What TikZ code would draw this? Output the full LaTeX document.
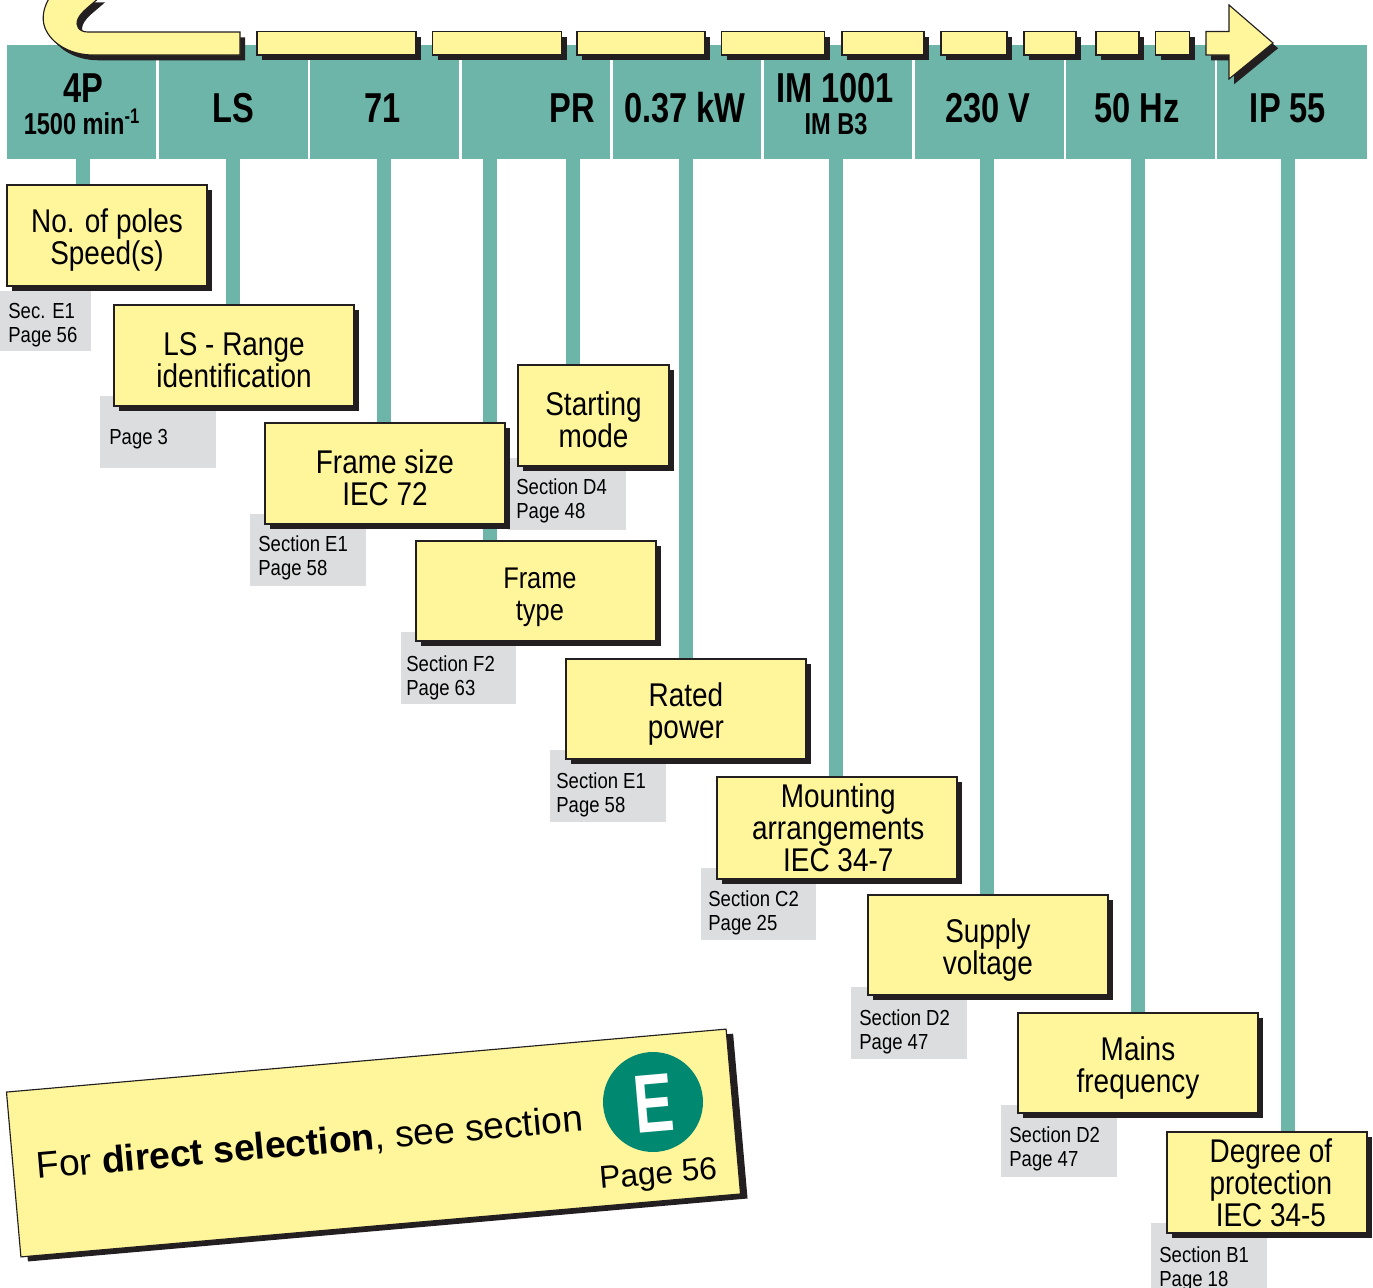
\documentclass[tikz,border=0pt]{standalone}
\usepackage{fontspec}
\usepackage{xcolor}
\usetikzlibrary{shadows,backgrounds}
\setmainfont{Liberation Sans}
\newfontfamily\noteface[FakeStretch=0.85]{Liberation Sans}
\newfontfamily\headface[FakeStretch=0.78]{Liberation Sans Bold}
\newfontfamily\bigface[FakeStretch=0.72]{Liberation Sans Bold}
\definecolor{bandteal}{HTML}{6DB5A9}
\definecolor{noteyellow}{HTML}{FFF59B}
\definecolor{shadowink}{HTML}{231F20}
\definecolor{taggray}{HTML}{DCDDDE}
\definecolor{badgegreen}{HTML}{008970}

\begin{document}
\begin{tikzpicture}[
    x=0.02cm, y=-0.02cm,
    cell/.style={fill=bandteal, anchor=north west, inner sep=0pt, outer sep=0pt, minimum height=2.28cm},
    headtext/.style={font=\headface\fontsize{23.8}{24}\selectfont, inner sep=0pt, align=center},
    headsmall/.style={font=\headface\fontsize{17.2}{18}\selectfont, inner sep=0pt},
    stem/.style={draw=bandteal, line width=0.28cm},
    hardshadow/.style={general shadow={fill=shadowink, shadow xshift=2.9pt, shadow yshift=-3pt}},
    segment/.style={draw=shadowink, line width=0.65pt, fill=noteyellow, hardshadow, anchor=north west, inner sep=0pt, outer sep=0pt, minimum height=0.47cm},
    notebox/.style={draw=shadowink, line width=0.65pt, fill=noteyellow, hardshadow, anchor=north west, inner sep=0pt, outer sep=0pt,
        minimum width=4.8cm, minimum height=2cm, align=center, font=\noteface\fontsize{18.7}{18.2}\selectfont},
    lowtext/.style={execute at begin node={\rule{0pt}{37pt}}},
    tagbox/.style={fill=taggray, anchor=north west, inner sep=0pt, outer sep=0pt, minimum width=2.32cm, minimum height=1.44cm},
    tagtext/.style={anchor=west, inner sep=0pt, align=left, font=\noteface\fontsize{12.4}{13.6}\selectfont}
]
    \clip (0,0) rectangle (1373,1288);

    % band
    \node[cell, minimum width=2.99cm] (cellPoles) at (7,45) {};
    \node[cell, minimum width=2.99cm] (cellRange) at (159,45) {};
    \node[cell, minimum width=2.99cm] (cellSize) at (310,45) {};
    \node[cell, minimum width=2.97cm] (cellType) at (461.5,45) {};
    \node[cell, minimum width=2.97cm] (cellPower) at (612.5,45) {};
    \node[cell, minimum width=2.98cm] (cellMount) at (763.5,45) {};
    \node[cell, minimum width=2.98cm] (cellVolt) at (915,45) {};
    \node[cell, minimum width=2.98cm] (cellFreq) at (1066,45) {};
    \node[cell, minimum width=3.00cm] (cellProt) at (1217,45) {};

    \node[headtext] (txtPoles) at (83,88) {4P};
    \node[headsmall] (txtSpeed) at (82,122) {1500 min\textsuperscript{-1}};
    \node[headtext] (txtRange) at (233,108) {LS};
    \node[headtext] (txtSize) at (383,108) {71};
    \node[headtext] (txtType) at (572,108) {PR};
    \node[headtext] (txtPower) at (685,108) {0.37 kW};
    \node[headtext] (txtMount) at (835,88) {IM 1001};
    \node[headsmall] (txtShape) at (836,124) {IM B3};
    \node[headtext] (txtVolt) at (988,108) {230 V};
    \node[headtext] (txtFreq) at (1137,108) {50 Hz};
    \node[headtext] (txtProt) at (1288,108) {IP 55};

    % gray tags
    \node[tagbox, minimum width=1.82cm, minimum height=1.2cm] (tagPoles) at (0,291) {};
    \node[tagbox] (tagRange) at (100,396) {};
    \node[tagbox] (tagSize) at (250,514) {};
    \node[tagbox, minimum width=2.36cm] (tagStart) at (508,458) {};
    \node[tagbox] (tagType) at (400.5,632) {};
    \node[tagbox] (tagPower) at (550,750) {};
    \node[tagbox] (tagMount) at (700.5,868) {};
    \node[tagbox] (tagVolt) at (851,987) {};
    \node[tagbox] (tagFreq) at (1001,1105) {};
    \node[tagbox] (tagProt) at (1151,1223) {};

    \node[tagtext] (refPoles) at (8,325) {Sec. E1\\Page 56};
    \node[tagtext] (refRange) at (109,439) {Page 3};
    \node[tagtext] (refSize) at (258,558) {Section E1\\Page 58};
    \node[tagtext] (refStart) at (516,501) {Section D4\\Page 48};
    \node[tagtext] (refType) at (406,678) {Section F2\\Page 63};
    \node[tagtext] (refPower) at (556,795) {Section E1\\Page 58};
    \node[tagtext] (refMount) at (708,913) {Section C2\\Page 25};
    \node[tagtext] (refVolt) at (859,1032) {Section D2\\Page 47};
    \node[tagtext] (refFreq) at (1009,1149) {Section D2\\Page 47};
    \node[tagtext] (refProt) at (1159,1269) {Section B1\\Page 18};

    % yellow boxes
    \node[notebox, lowtext, minimum width=4cm, minimum height=2.02cm] (boxPoles) at (7,185) {No. of poles\\Speed(s)};
    \node[notebox, lowtext, minimum height=2.02cm] (boxRange) at (114,305) {LS - Range\\identification};
    \node[notebox, lowtext, minimum height=2.02cm] (boxSize) at (265,423) {Frame size\\IEC 72};
    \node[notebox, lowtext, minimum width=3.02cm, minimum height=2.02cm] (boxStart) at (518,365) {Starting\\mode};
    \node[notebox, lowtext, font=\noteface\fontsize{17}{18.2}\selectfont] (boxType) at (416,541) {\hspace*{4.5pt}Frame\\\hspace*{4.5pt}type};
    \node[notebox, lowtext] (boxPower) at (566,659) {Rated\\power};
    \node[notebox, minimum height=2.04cm] (boxMount) at (717,777) {\hspace*{1.5pt}Mounting\\\hspace*{1.5pt}arrangements\\\hspace*{1.5pt}IEC 34-7};
    \node[notebox, lowtext] (boxVolt) at (868,895) {Supply\\voltage};
    \node[notebox, lowtext] (boxFreq) at (1018,1013) {Mains\\frequency};
    \node[notebox, minimum width=4cm, minimum height=2.02cm] (boxProt) at (1167,1132) {\hspace*{4.5pt}Degree of\\\hspace*{4.5pt}protection\\\hspace*{4.5pt}IEC 34-5};

    % stems
    \coordinate (footPoles) at (83,159);
    \coordinate (footRange) at (233,159);
    \coordinate (footSize) at (384,159);
    \coordinate (footType) at (489.5,159);
    \coordinate (footStart) at (573,159);
    \coordinate (footPower) at (685.5,159);
    \coordinate (footMount) at (836,159);
    \coordinate (footVolt) at (987,159);
    \coordinate (footFreq) at (1137.5,159);
    \coordinate (footProt) at (1288,159);
    \begin{pgfonlayer}{background}
        \draw[stem] (footPoles) -- (footPoles |- boxPoles.north);
        \draw[stem] (footRange) -- (footRange |- boxRange.north);
        \draw[stem] (footSize) -- (footSize |- boxSize.north);
        \draw[stem] (footType) -- (footType |- boxType.north);
        \draw[stem] (footStart) -- (footStart |- boxStart.north);
        \draw[stem] (footPower) -- (footPower |- boxPower.north);
        \draw[stem] (footMount) -- (footMount |- boxMount.north);
        \draw[stem] (footVolt) -- (footVolt |- boxVolt.north);
        \draw[stem] (footFreq) -- (footFreq |- boxFreq.north);
        \draw[stem] (footProt) -- (footProt |- boxProt.north);
    \end{pgfonlayer}

    % dashed arrow over the band
    \filldraw[draw=shadowink, line width=0.65pt, fill=noteyellow, hardshadow]
        (50,-3) .. controls (44,6) and (41,18) .. (45,28)
        .. controls (52,45) and (72,55) .. (93,55) -- (240,55) -- (240,32) -- (88,32)
        .. controls (79,32) and (75,26) .. (78,19)
        .. controls (81,12) and (90,6) .. (100,-3) -- cycle;
    \node[segment, minimum width=3.18cm] (dash1) at (257,31.5) {};
    \node[segment, minimum width=2.58cm] (dash2) at (432.5,31.5) {};
    \node[segment, minimum width=2.56cm] (dash3) at (577,31.5) {};
    \node[segment, minimum width=2.06cm] (dash4) at (721.5,31.5) {};
    \node[segment, minimum width=1.64cm] (dash5) at (842,31.5) {};
    \node[segment, minimum width=1.32cm] (dash6) at (941,31.5) {};
    \node[segment, minimum width=1.04cm] (dash7) at (1024,31.5) {};
    \node[segment, minimum width=0.86cm] (dash8) at (1096,31.5) {};
    \node[segment, minimum width=0.68cm] (dash9) at (1155.5,31.5) {};
    \filldraw[draw=shadowink, line width=0.65pt, fill=noteyellow, hardshadow]
        (1206,31.5) -- (1229,31.5) -- (1229,5) -- (1273,43) -- (1229,79) -- (1229,55) -- (1206,55) -- cycle;

    % direct selection card
    \node[draw=shadowink, line width=0.65pt, fill=noteyellow, general shadow={fill=shadowink, shadow xshift=4pt, shadow yshift=-2.6pt},
        rotate=5, inner sep=0pt, minimum width=14.45cm, minimum height=3.31cm] (card) at (373.5,1143) {};
    \node[rotate=5, anchor=base west, inner sep=0pt, font=\fontsize{21.2}{24}\selectfont] (cardText) at (37,1179)
        {For \textbf{direct selection}, see section};
    \node[circle, fill=badgegreen, minimum size=2cm, inner sep=0pt] (badge) at (653,1102) {};
    \node[rotate=5, text=white, inner sep=0pt, font=\bigface\fontsize{47}{48}\selectfont] (badgeText) at (654,1103) {E};
    \node[rotate=5, anchor=base west, inner sep=0pt, font=\fontsize{18}{20}\selectfont] (cardPage) at (600,1189) {Page 56};
\end{tikzpicture}
\end{document}
